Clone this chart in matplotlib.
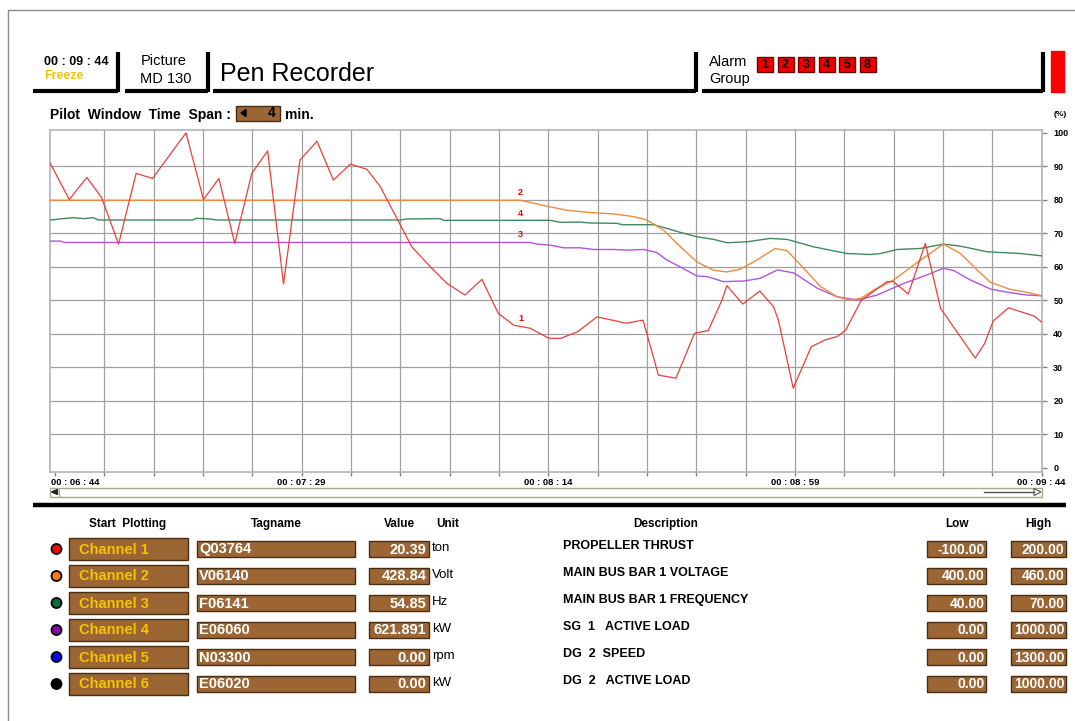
import numpy as np
import matplotlib
matplotlib.use('Agg')
import matplotlib.pyplot as plt
from matplotlib.patches import Rectangle, Polygon, Circle

plt.rcParams['font.family'] = ['Liberation Sans', 'DejaVu Sans']

# ---- data (time in seconds after 00:06:44, value in %) ----
red_t = [-0.9, 2.6, 5.8, 8.5, 11.6, 14.8, 17.8, 23.9, 27.1, 29.9, 32.8, 35.9, 38.8, 41.7,
         44.7, 47.8, 50.8, 53.9, 56.9, 59.3, 65.1, 68.5, 71.5, 74.8, 77.9, 79.7, 80.9, 83.7,
         86.7, 90.1, 92.3, 95.4, 98.9, 104.2, 107.3, 110.1, 113.3, 116.7, 119.2, 121.7, 122.6,
         125.5, 128.6, 131.1, 132.0, 134.7, 138.0, 140.5, 142.7, 144.3, 147.1, 151.8, 153.0,
         155.7, 158.8, 161.6, 167.9, 169.6, 171.2, 174.0, 178.7, 180.0]
red_v = [91.0, 80.1, 86.7, 80.7, 66.8, 87.9, 86.4, 100.0, 80.1, 86.4, 67.0, 87.9, 94.6, 54.9,
         91.9, 97.5, 85.9, 90.7, 89.1, 84.1, 66.0, 60.0, 55.1, 51.6, 56.3, 50.1, 46.1, 42.6,
         41.7, 38.7, 38.7, 40.7, 45.1, 43.2, 44.1, 27.7, 26.8, 40.2, 41.0, 50.1, 54.4,
         48.9, 52.8, 48.1, 44.1, 23.8, 36.2, 38.2, 39.2, 41.2, 50.0, 55.6, 55.6,
         51.9, 67.0, 47.6, 32.8, 37.1, 43.9, 47.8, 45.3, 43.6]

orange_t = [-0.9, 84.9, 89.8, 93.4, 97.1, 101.9, 105.6, 108.0, 111.0, 114.1, 117.1, 120.2,
            122.6, 125.0, 127.5, 131.4, 133.6, 136.6, 139.7, 142.7, 145.1, 147.0, 149.4,
            153.0, 157.9, 162.1, 165.2, 168.3, 170.7, 174.3, 177.4, 180.0]
orange_v = [79.9, 79.9, 78.1, 76.9, 76.3, 75.8, 75.0, 74.0, 71.0, 66.0, 61.5, 59.0,
            58.5, 59.3, 61.5, 65.5, 64.8, 59.6, 54.1, 51.1, 50.1, 50.6, 53.1,
            56.1, 62.0, 66.8, 64.0, 59.0, 55.4, 53.3, 52.4, 51.4]

green_t = [-0.9, 0.9, 3.3, 5.2, 7.0, 7.9, 25.2, 25.7, 28.3, 29.5, 63.0, 64.2, 70.3, 70.9,
           90.4, 92.2, 95.8, 97.7, 102.5, 103.5, 109.2, 111.0, 114.1, 117.1, 120.2, 122.6,
           126.3, 130.5, 133.6, 138.4, 144.5, 148.8, 150.6, 153.7, 157.9, 162.1, 165.2,
           170.1, 176.2, 180.0]
green_v = [74.0, 74.3, 74.7, 74.4, 74.7, 74.0, 74.0, 74.5, 74.3, 74.0, 74.0, 74.3, 74.4, 73.9,
           73.9, 73.3, 73.4, 73.1, 73.0, 72.6, 72.6, 71.8, 70.3, 69.0, 68.2, 67.2,
           67.5, 68.5, 68.2, 66.0, 64.0, 63.7, 64.0, 65.2, 65.5, 66.8, 66.2,
           64.5, 64.0, 63.3]

purple_t = [-0.9, 0.9, 1.8, 86.7, 87.9, 90.4, 92.8, 95.8, 98.3, 101.9, 104.4, 107.4, 109.8,
            111.7, 114.1, 117.1, 119.0, 122.0, 125.7, 128.7, 131.8, 134.8, 139.1, 142.7,
            146.4, 150.0, 154.9, 159.1, 162.1, 164.0, 167.0, 170.7, 174.3, 177.4, 180.0]
purple_v = [67.7, 67.7, 67.3, 67.3, 66.8, 66.5, 65.7, 65.7, 65.2, 65.2, 65.0, 65.2, 64.3,
            62.0, 60.0, 57.3, 57.1, 55.6, 55.8, 56.6, 59.1, 58.2, 53.6, 51.1,
            50.1, 51.6, 55.1, 57.6, 59.6, 58.9, 56.1, 53.4, 52.3, 51.6, 51.4]

time_labels = ['00 : 06 : 44', '00 : 07 : 29', '00 : 08 : 14', '00 : 08 : 59', '00 : 09 : 44']
time_label_t = [0, 45, 90, 135, 180]
pen_labels = ['1', '2', '3', '4']
pen_label_t = [85.1, 84.9, 84.9, 84.9]
pen_label_v = [44.7, 82.3, 69.8, 76.0]

channels = ['Channel 1', 'Channel 2', 'Channel 3', 'Channel 4', 'Channel 5', 'Channel 6']
dot_colors = ['#ff0000', '#ff7a10', '#0b6b3a', '#8a00b0', '#0000ff', '#000000']
tagnames = ['Q03764', 'V06140', 'F06141', 'E06060', 'N03300', 'E06020']
values = ['20.39', '428.84', '54.85', '621.891', '0.00', '0.00']
units = ['ton', 'Volt', 'Hz', 'kW', 'rpm', 'kW']
descriptions = ['PROPELLER THRUST', 'MAIN BUS BAR 1 VOLTAGE', 'MAIN BUS BAR 1 FREQUENCY',
                'SG  1   ACTIVE LOAD', 'DG  2  SPEED', 'DG  2   ACTIVE LOAD']
lows = ['-100.00', '400.00', '40.00', '0.00', '0.00', '0.00']
highs = ['200.00', '460.00', '70.00', '1000.00', '1300.00', '1000.00']
alarm_groups = ['1', '2', '3', '4', '5', '8']

W, H = 1075, 721
BROWN = '#9b6634'
BROWN_EDGE = '#4a2c12'
GOLD = '#f5c400'

fig = plt.figure(figsize=(W / 100, H / 100), dpi=100)
fig.patch.set_facecolor('white')

# overlay in pixel coordinates for the HMI frame
ov = fig.add_axes([0, 0, 1, 1])
ov.set_xlim(0, W)
ov.set_ylim(H, 0)
ov.axis('off')


def box(x0, y0, x1, y1, face=BROWN, edge=BROWN_EDGE, lw=1.0):
    ov.add_patch(Rectangle((x0, y0), x1 - x0, y1 - y0, facecolor=face, edgecolor=edge, lw=lw))


def txt(x, y, s, size=9, weight='normal', color='black', ha='left'):
    ov.text(x, y, s, fontsize=size, fontweight=weight, color=color, ha=ha, va='center')


# outer border
ov.plot([7.5, 7.5, W], [H, 10, 10], color='#8c8c8c', lw=1)

# header blocks
thick = 3
for x0, x1 in [(33, 118), (125, 208), (213, 696), (702, 1043)]:
    ov.plot([x0, x1], [91, 91], color='black', lw=thick, solid_capstyle='butt')
for xv in [118, 208, 696, 1043]:
    ov.plot([xv, xv], [52, 92], color='black', lw=thick, solid_capstyle='butt')

txt(44, 62, '00 : 09 : 44', 9, 'bold')
txt(44, 76, 'Freeze', 9, 'bold', GOLD)
txt(164, 61, 'Picture', 10.5, ha='center')
txt(166, 79, 'MD 130', 10.5, ha='center')
txt(220, 74, 'Pen Recorder', 18)
txt(709, 62, 'Alarm', 10.5)
txt(709, 79, 'Group', 10.5)
for i, g in enumerate(alarm_groups):
    x0 = 757 + i * 20.5
    box(x0, 57, x0 + 16, 71.5, face='#ee0000', edge='#700000')
    txt(x0 + 8, 64.5, g, 9, 'bold', ha='center')
box(1050.5, 51, 1064, 92, face='#ff0000', edge='#ff0000')

# pilot window line
txt(50, 115, 'Pilot  Window  Time  Span :', 10, 'bold')
box(235.5, 105.5, 279.5, 120.5)
ov.add_patch(Polygon([[241, 113], [246, 109.5], [246, 116.5]], closed=True, color='black'))
txt(276, 113, '4', 10, 'bold', ha='right')
txt(285, 115, 'min.', 10, 'bold')
txt(1060, 115, '(%)', 6, 'bold', ha='center')

# scroll bar under chart
box(50, 487.5, 1041.5, 496.5, face='white', edge='#a8a88c', lw=1)
ov.add_patch(Polygon([[51.5, 492], [57.5, 489.5], [57.5, 494.5]], closed=True, color='#222222'))
ov.plot([58.5, 58.5], [488, 496], color='#a8a88c', lw=0.8)
ov.plot([984, 1034], [492, 492], color='#555555', lw=1)
ov.add_patch(Polygon([[1034, 488.5], [1041, 492], [1034, 495.5]], closed=True,
                     facecolor='white', edgecolor='#555555', lw=0.8))

# separator
ov.plot([33, 1066], [505, 505], color='black', lw=3.2, solid_capstyle='butt')

# table header
txt(128, 524, 'Start  Plotting', 8.5, 'bold', ha='center')
txt(276, 524, 'Tagname', 8.5, 'bold', ha='center')
txt(399, 524, 'Value', 8.5, 'bold', ha='center')
txt(448, 524, 'Unit', 8.5, 'bold', ha='center')
txt(666, 524, 'Description', 8.5, 'bold', ha='center')
txt(957, 524, 'Low', 8.5, 'bold', ha='center')
txt(1038, 524, 'High', 8.5, 'bold', ha='center')

row_y = [549, 576, 603, 630, 657, 684]
for i, y in enumerate(row_y):
    ov.add_patch(Circle((56.5, y), 5, facecolor=dot_colors[i], edgecolor='black', lw=1.3))
    box(68.5, y - 11, 187.5, y + 11)
    txt(79, y + 0.5, channels[i], 10.5, 'bold', GOLD)
    box(197, y - 8, 355, y + 8)
    txt(199, y + 0.5, tagnames[i], 10.5, 'bold', 'white')
    box(369, y - 8, 428.5, y + 8)
    txt(426.5, y + 0.5, values[i], 10.5, 'bold', 'white', ha='right')
    txt(432, y - 1, units[i], 9.5)
    txt(563, y - 3, descriptions[i], 9, 'bold')
    box(927, y - 8, 986, y + 8)
    txt(984.5, y + 0.5, lows[i], 10, 'bold', 'white', ha='right')
    box(1011, y - 8, 1066, y + 8)
    txt(1064.5, y + 0.5, highs[i], 10, 'bold', 'white', ha='right')

# ---- trend chart ----
ax = fig.add_axes([50 / W, 1 - 472 / H, 991.5 / W, 342.5 / H])
ax.set_facecolor('white')
ax.set_xlim(-0.91, 180)
ax.set_ylim(-1.2, 101)
ax.vlines(np.arange(9, 180, 9), -1.2, 101, color='#a0a0a0', lw=0.9, zorder=1)
ax.hlines(np.arange(10, 100, 10), -0.91, 180, color='#a0a0a0', lw=0.9, zorder=1)
for sp in ax.spines.values():
    sp.set_color('#b4b4b4')
    sp.set_linewidth(1.2)

ax.plot(purple_t, purple_v, color='#b455d8', lw=1.0, zorder=3)
ax.plot(green_t, green_v, color='#3f8a5e', lw=1.0, zorder=3)
ax.plot(orange_t, orange_v, color='#f08a3c', lw=1.0, zorder=3)
ax.plot(red_t, red_v, color='#e8403c', lw=0.9, zorder=4)
for s, tx, vy in zip(pen_labels, pen_label_t, pen_label_v):
    ax.text(tx, vy, s, color='#ee0000', fontsize=6.5, fontweight='bold', ha='center', va='center')

ax.yaxis.tick_right()
ax.set_yticks(np.arange(0, 101, 10))
ax.set_yticklabels([str(v) for v in range(0, 101, 10)], fontweight='bold')
ax.tick_params(axis='y', length=3.5, width=1, color='#808080', pad=5, labelsize=6.5)
ax.set_xticks(np.arange(0, 181, 9))
ax.set_xticklabels([])
ax.tick_params(axis='x', length=3, width=1, color='#808080')
xtr = ax.get_xaxis_transform()
for s, t in zip(time_labels, time_label_t):
    if t == 0:
        ax.text(-0.7, -0.018, s, transform=xtr, ha='left', va='top',
                fontsize=6.8, fontweight='bold', clip_on=False)
    else:
        ax.text(t, -0.018, s, transform=xtr, ha='center', va='top',
                fontsize=6.8, fontweight='bold', clip_on=False)

fig.savefig('out.png', dpi=100, facecolor='white')
